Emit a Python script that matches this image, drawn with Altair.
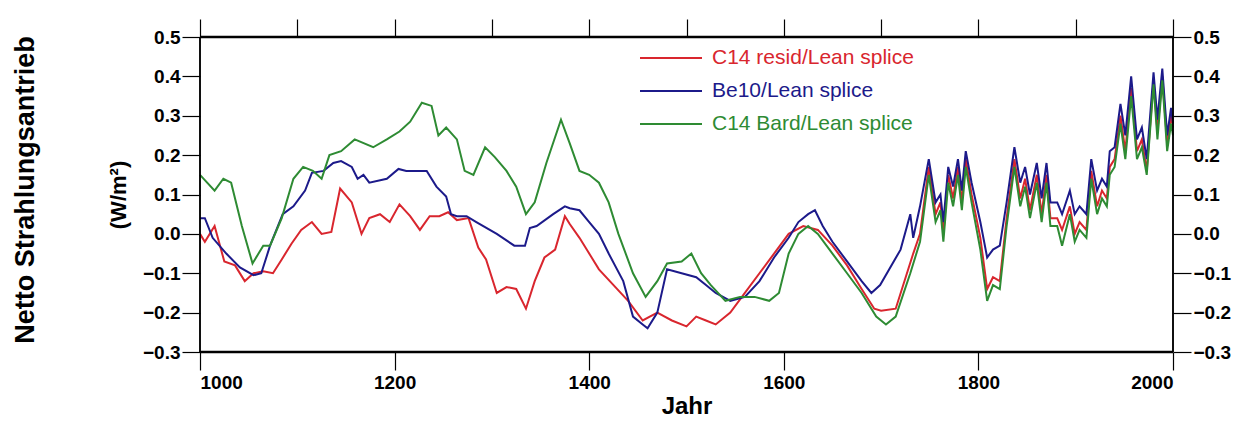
import altair as alt
import pandas as pd

red_years = [1000, 1005, 1015, 1025, 1036, 1046, 1055, 1065, 1075, 1084, 1094, 1104, 1115, 1125, 1135, 1144,
             1156, 1166, 1174, 1185, 1195, 1205, 1216, 1226, 1236, 1246, 1255, 1264, 1276, 1286, 1294, 1305,
             1315, 1325, 1335, 1344, 1354, 1365, 1375, 1380, 1390, 1400, 1410, 1425, 1440, 1455, 1470, 1485,
             1500, 1510, 1520, 1530, 1545, 1560, 1575, 1590, 1605, 1620, 1635, 1650, 1665, 1680, 1693, 1700,
             1715, 1733, 1740,
             1749, 1756, 1761, 1764, 1769, 1774, 1779, 1783, 1787, 1793, 1802, 1809, 1815, 1822, 1829, 1837,
             1843, 1848, 1853, 1860, 1865, 1870, 1874, 1881, 1886, 1894, 1899, 1904, 1911, 1916, 1922, 1927,
             1932, 1935, 1940, 1946, 1951, 1957, 1963, 1968, 1973, 1980, 1984, 1989, 1994, 1998, 2000]
red_vals = [0.0, -0.02, 0.02, -0.07, -0.08, -0.12, -0.10, -0.095, -0.10, -0.065, -0.025, 0.01, 0.03, 0.0, 0.005, 0.115,
            0.08, 0.0, 0.04, 0.05, 0.03, 0.075, 0.045, 0.01, 0.045, 0.045, 0.055, 0.035, 0.04, -0.035, -0.065, -0.15,
            -0.135, -0.14, -0.19, -0.12, -0.06, -0.04, 0.045, 0.025, -0.01, -0.05, -0.09, -0.13, -0.17, -0.22, -0.20, -0.22,
            -0.235, -0.21, -0.22, -0.23, -0.20, -0.15, -0.10, -0.05, 0.0, 0.02, 0.01, -0.03, -0.08, -0.14, -0.19, -0.195,
            -0.19, -0.05, 0.0,
            0.17, 0.05, 0.08, 0.0, 0.15, 0.09, 0.17, 0.08, 0.19, 0.10, -0.01, -0.14, -0.11, -0.12, 0.04, 0.19,
            0.09, 0.14, 0.06, 0.15, 0.05, 0.15, 0.04, 0.04, 0.01, 0.07, 0.0, 0.03, 0.01, 0.16, 0.07, 0.11,
            0.09, 0.17, 0.19, 0.30, 0.21, 0.37, 0.21, 0.24, 0.16, 0.39, 0.26, 0.40, 0.23, 0.30, 0.27]

blue_years = [1000, 1005, 1013, 1027, 1041, 1055, 1063, 1072, 1085, 1096, 1108, 1115, 1127, 1137, 1145, 1156,
              1162, 1168, 1174, 1192, 1204, 1212, 1233, 1243, 1253, 1258, 1264, 1274, 1284, 1305, 1323, 1334,
              1339, 1346, 1363, 1375, 1380, 1390, 1400, 1410, 1420, 1435, 1445, 1455, 1460, 1470, 1480, 1495,
              1510, 1520, 1530, 1545, 1560, 1575, 1590, 1605, 1615, 1625, 1632, 1640, 1650, 1665, 1680, 1690,
              1699, 1720, 1730, 1733, 1740,
              1749, 1756, 1761, 1764, 1769, 1774, 1779, 1783, 1787, 1793, 1802, 1809, 1815, 1822, 1829, 1837,
              1843, 1848, 1853, 1860, 1865, 1870, 1874, 1881, 1886, 1894, 1899, 1904, 1911, 1916, 1922, 1927,
              1932, 1935, 1940, 1946, 1951, 1957, 1963, 1968, 1973, 1980, 1984, 1989, 1994, 1998, 2000]
blue_vals = [0.04, 0.04, -0.01, -0.05, -0.085, -0.105, -0.10, -0.03, 0.05, 0.07, 0.11, 0.155, 0.16, 0.18, 0.185, 0.17,
             0.14, 0.15, 0.13, 0.14, 0.165, 0.16, 0.16, 0.12, 0.095, 0.05, 0.045, 0.045, 0.03, 0.0, -0.03, -0.03,
             0.015, 0.02, 0.05, 0.07, 0.065, 0.06, 0.03, 0.0, -0.05, -0.12, -0.21, -0.23, -0.24, -0.20, -0.09, -0.10,
             -0.11, -0.13, -0.15, -0.17, -0.16, -0.12, -0.06, -0.01, 0.03, 0.05, 0.06, 0.02, -0.02, -0.07, -0.12, -0.15,
             -0.13, -0.04, 0.05, -0.01, 0.07,
             0.19, 0.08, 0.10, 0.03, 0.17, 0.12, 0.19, 0.11, 0.21, 0.13, 0.03, -0.06, -0.04, -0.03, 0.08, 0.22,
             0.13, 0.17, 0.10, 0.18, 0.09, 0.18, 0.08, 0.08, 0.05, 0.11, 0.05, 0.07, 0.05, 0.19, 0.11, 0.14,
             0.12, 0.21, 0.22, 0.33, 0.25, 0.40, 0.24, 0.27, 0.19, 0.41, 0.29, 0.42, 0.25, 0.32, 0.28]

green_years = [1000, 1015, 1024, 1032, 1043, 1054, 1065, 1072, 1084, 1096, 1106, 1116, 1125, 1133, 1145, 1159,
               1178, 1192, 1205, 1216, 1228, 1238, 1245, 1253, 1264, 1272, 1281, 1293, 1303, 1315, 1325, 1335,
               1344, 1356, 1371, 1380, 1390, 1400, 1410, 1420, 1430, 1445, 1458, 1470, 1480, 1495, 1505, 1515,
               1525, 1540, 1555, 1570, 1585, 1595, 1605, 1615, 1625, 1635, 1650, 1665, 1680, 1695, 1705, 1715,
               1730, 1740,
               1749, 1756, 1761, 1764, 1769, 1774, 1779, 1783, 1787, 1793, 1802, 1809, 1815, 1822, 1829, 1837,
               1843, 1848, 1853, 1860, 1865, 1870, 1874, 1881, 1886, 1894, 1899, 1904, 1911, 1916, 1922, 1927,
               1932, 1935, 1940, 1946, 1951, 1957, 1963, 1968, 1973, 1980, 1984, 1989, 1994, 1998, 2000]
green_vals = [0.15, 0.11, 0.14, 0.13, 0.02, -0.075, -0.03, -0.03, 0.04, 0.14, 0.17, 0.16, 0.14, 0.20, 0.21, 0.24,
              0.22, 0.24, 0.26, 0.285, 0.333, 0.325, 0.25, 0.27, 0.24, 0.16, 0.15, 0.22, 0.195, 0.16, 0.12, 0.05,
              0.08, 0.18, 0.29, 0.23, 0.16, 0.15, 0.13, 0.08, 0.0, -0.10, -0.16, -0.12, -0.075, -0.07, -0.05, -0.10,
              -0.13, -0.17, -0.16, -0.16, -0.17, -0.15, -0.05, 0.0, 0.02, 0.0, -0.05, -0.10, -0.15, -0.21, -0.23, -0.21,
              -0.10, -0.02,
              0.15, 0.03, 0.06, -0.02, 0.13, 0.07, 0.15, 0.06, 0.17, 0.08, -0.04, -0.17, -0.13, -0.14, 0.02, 0.17,
              0.07, 0.12, 0.04, 0.13, 0.03, 0.13, 0.02, 0.02, -0.03, 0.05, -0.02, 0.01, -0.01, 0.14, 0.05, 0.09,
              0.07, 0.15, 0.17, 0.28, 0.19, 0.35, 0.19, 0.22, 0.15, 0.38, 0.24, 0.39, 0.21, 0.28, 0.25]

names = ["C14 resid/Lean splice", "Be10/Lean splice", "C14 Bard/Lean splice"]
colors = ["#d9262e", "#1c1a8a", "#2e8b33"]
y_ticks = [-0.3, -0.2, -0.1, 0.0, 0.1, 0.2, 0.3, 0.4, 0.5]

frames = []
for name, yrs, vals in [(names[0], red_years, red_vals), (names[1], blue_years, blue_vals),
                        (names[2], green_years, green_vals)]:
    frames.append(pd.DataFrame({"Jahr": yrs, "wert": vals, "serie": name}))
df = pd.concat(frames)

font = "Liberation Sans"
W, H = 973, 315
xscale = alt.Scale(domain=[1000, 2000], nice=False)
yscale = alt.Scale(domain=[-0.3, 0.5], nice=False)

lines = alt.Chart(df).mark_line(strokeWidth=2).encode(
    x=alt.X("Jahr:Q", scale=xscale,
            axis=alt.Axis(values=[1000, 1200, 1400, 1600, 1800, 2000], format="d", title="Jahr",
                          titleFontSize=24, titlePadding=2, labelFontSize=19, labelFontWeight="bold",
                          tickSize=18, labelPadding=3, domain=False)),
    y=alt.Y("wert:Q", scale=yscale,
            axis=alt.Axis(values=y_ticks, format=".1f", title="(W/m²)", titleFontSize=22,
                          titlePadding=12, labelFontSize=19, labelFontWeight="bold", tickSize=18,
                          labelPadding=2, domain=False)),
    color=alt.Color("serie:N", scale=alt.Scale(domain=names, range=colors), legend=None),
    detail="serie:N",
)

right = alt.Chart(df).mark_point(opacity=0).encode(
    y=alt.Y("wert:Q", scale=yscale,
            axis=alt.Axis(orient="right", values=y_ticks, format=".1f", title=None, labelFontSize=19,
                          labelFontWeight="bold", tickSize=18, labelPadding=2, domain=False)),
)
top = alt.Chart(df).mark_point(opacity=0).encode(
    x=alt.X("Jahr:Q", scale=xscale,
            axis=alt.Axis(orient="top", values=list(range(1000, 2001, 100)), labels=False, title=None,
                          tickSize=18, domain=False)),
)

frame_df = pd.DataFrame({"y": [0.5, -0.3]})
hframe = alt.Chart(frame_df).mark_rule(strokeWidth=2.5, color="black").encode(
    y=alt.Y("y:Q", scale=yscale, axis=None), x=alt.value(0), x2=alt.value(W))
vframe = alt.Chart(frame_df).mark_rule(strokeWidth=1.5, color="black").encode(
    x=alt.value(0), y=alt.value(0), y2=alt.value(H))
vframe2 = alt.Chart(frame_df).mark_rule(strokeWidth=1.5, color="black").encode(
    x=alt.value(W), y=alt.value(0), y2=alt.value(H))

leg = []
for i, (n, c) in enumerate(zip(names, colors)):
    ly = 21 + i * 33
    one = pd.DataFrame({"serie": [n]})
    leg.append(alt.Chart(one).mark_rule(color=c, strokeWidth=2).encode(
        x=alt.value(440), x2=alt.value(502), y=alt.value(ly)))
    leg.append(alt.Chart(one).mark_text(color=c, align="left", baseline="middle", fontSize=21,
                                        font=font).encode(
        x=alt.value(512), y=alt.value(ly), text="serie:N"))

side = alt.Chart(pd.DataFrame({"t": ["Netto    Strahlungsantrieb"]})).mark_text(
    angle=270, fontSize=27, fontWeight="bold", font=font, baseline="middle").encode(
    x=alt.value(-174), y=alt.value(153), text="t:N")

chart = alt.layer(lines, hframe, vframe, vframe2, top, *leg, side, right).resolve_scale(
    x="independent", y="independent").properties(
    width=W, height=H, autosize=alt.AutoSizeParams(type="none"),
    padding={"left": 192, "top": 29, "right": 70, "bottom": 70},
).configure_view(stroke=None).configure_axis(
    grid=False, labelFont=font, titleFont=font, titleFontWeight="bold", tickColor="black",
    labelColor="black", titleColor="black", tickWidth=1.2,
)

chart.save("out.html", embed_options={"renderer": "svg", "actions": False})
